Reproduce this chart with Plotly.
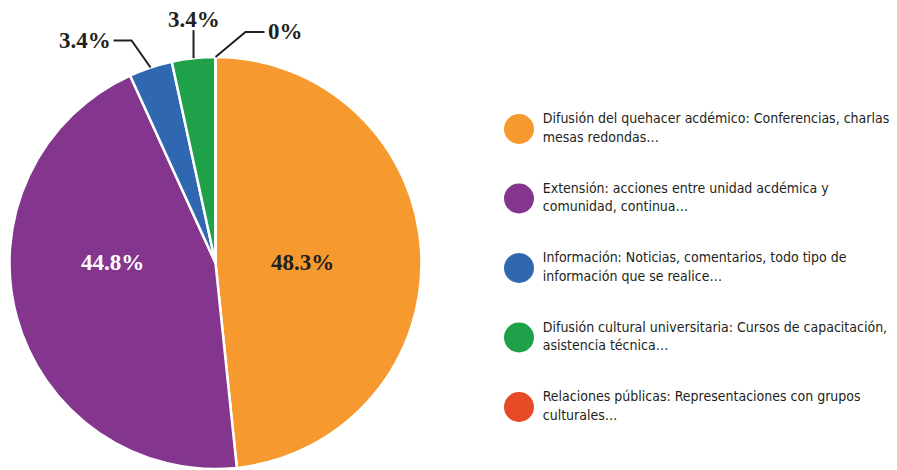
import math
import plotly.graph_objects as go

# Datos
categorias = [
    "Difusión del quehacer acdémico: Conferencias, charlas,<br>mesas redondas…",
    "Extensión: acciones entre unidad acdémica y<br>comunidad, continua…",
    "Información: Noticias, comentarios, todo tipo de<br>información que se realice…",
    "Difusión cultural universitaria: Cursos de capacitación,<br>asistencia técnica…",
    "Relaciones públicas: Representaciones con grupos<br>culturales…",
]
porcentajes = [48.3, 44.8, 3.4, 3.4, 0]
etiquetas = ["48.3%", "44.8%", "3.4%", "3.4%", "0%"]
colores = ["#F6992E", "#84368F", "#2F68B1", "#1FA14A", "#E64A26"]

W, H = 897, 470
OFF = 8                        # margen por defecto del <body> en la página
CX, CY, R = 215.5, 263, 206    # centro y radio del pastel en px (vista)
TINTA = "#231f20"


def px(x):
    return (x - OFF) / W


def py(y):
    return 1 - (y - OFF) / H


fig = go.Figure()

# Pastel
fig.add_trace(go.Pie(
    values=porcentajes,
    marker=dict(colors=colores, line=dict(color="white", width=2.5)),
    sort=False,
    direction="clockwise",
    rotation=0,
    textinfo="none",
    showlegend=False,
    hoverinfo="skip",
    domain=dict(x=[px(CX - R), px(CX + R)], y=[py(CY + R), py(CY - R)]),
))

# Leyenda manual con círculos grandes
n = len(categorias)
fig.add_trace(go.Scatter(
    x=[0] * n,
    y=list(range(n - 1, -1, -1)),
    mode="markers+text",
    marker=dict(size=30, color=colores, line=dict(width=0)),
    text=[" " + c.replace("<br>", "<br> ") for c in categorias],
    textposition="middle right",
    textfont=dict(family="Liberation Sans Narrow, DejaVu Sans Condensed, Arial Narrow, sans-serif",
                  size=14, color=TINTA),
    cliponaxis=False,
    hoverinfo="skip",
    showlegend=False,
))

# Ángulos medios de cada porción (desde las 12 en sentido horario)
total = sum(porcentajes)
acum = 0
medios = []
for v in porcentajes:
    medios.append(2 * math.pi * (acum + v / 2) / total)
    acum += v


def borde(i):
    a = medios[i]
    return CX + R * math.sin(a), CY - R * math.cos(a)


fuente_pct = dict(family="Liberation Serif, Times New Roman, serif", color=TINTA, size=23)

# Etiquetas interiores
fig.add_annotation(x=px(CX + 0.42 * R), y=py(CY - 1), xref="paper", yref="paper",
                   text=f"<b>{etiquetas[0]}</b>", showarrow=False,
                   xanchor="center", yanchor="middle", font=fuente_pct)
fig.add_annotation(x=px(CX - 0.50 * R), y=py(CY - 1), xref="paper", yref="paper",
                   text=f"<b>{etiquetas[1]}</b>", showarrow=False,
                   xanchor="center", yanchor="middle",
                   font=dict(fuente_pct, color="white"))

# Etiquetas exteriores con líneas guía (codo, final) relativos al borde
guias = {
    2: ((-19, -27), (-37, -27), "right"),
    3: ((0, -28), (0, -28), "center"),
    4: ((30, -25), (49, -25), "left"),
}
for i, (codo, fin, anc) in guias.items():
    x0, y0 = borde(i)
    x1, y1 = x0 + codo[0], y0 + codo[1]
    x2, y2 = x0 + fin[0], y0 + fin[1]
    fig.add_shape(
        type="path",
        path=f"M {px(x0)},{py(y0)} L {px(x1)},{py(y1)} L {px(x2)},{py(y2)}",
        xref="paper", yref="paper",
        line=dict(color=TINTA, width=2),
    )
    if anc == "right":
        tx, ty = x2 - 2, y2
    elif anc == "left":
        tx, ty = x2 + 2, y2
    else:
        tx, ty = x2, y2 - 11
    fig.add_annotation(x=px(tx), y=py(ty), xref="paper", yref="paper",
                       text=f"<b>{etiquetas[i]}</b>", showarrow=False,
                       xanchor=anc, yanchor="middle", borderpad=0,
                       font=fuente_pct)

# Ejes ocultos para la leyenda
paso = 69.5
y_inf = 407 - OFF
x0_ley = 519 - OFF
fig.update_layout(
    width=W,
    height=H,
    margin=dict(l=0, r=0, t=0, b=0),
    paper_bgcolor="white",
    plot_bgcolor="white",
    xaxis=dict(range=[-x0_ley, W - x0_ley], domain=[0, 1], visible=False, fixedrange=True),
    yaxis=dict(range=[-(H - y_inf) / paso, y_inf / paso], domain=[0, 1], visible=False, fixedrange=True),
    showlegend=False,
)

fig.write_html("out.html")
